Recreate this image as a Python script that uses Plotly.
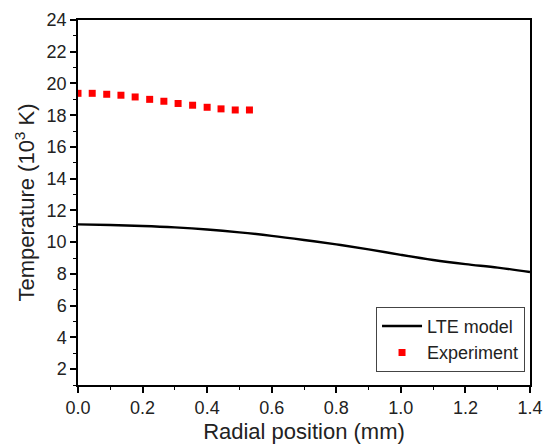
import plotly.graph_objects as go

# LTE model curve
model_x = [0.0, 0.1, 0.2, 0.3, 0.4, 0.5, 0.6, 0.7, 0.8, 0.9, 1.0, 1.1, 1.2, 1.3, 1.4]
model_y = [11.12, 11.08, 11.02, 10.93, 10.80, 10.62, 10.40, 10.14, 9.86, 9.55, 9.20, 8.88, 8.62, 8.40, 8.12]

# Experiment points
exp_x = [0.0, 0.044, 0.089, 0.133, 0.177, 0.222, 0.266, 0.310, 0.355, 0.400, 0.443, 0.487, 0.531]
exp_y = [19.38, 19.38, 19.32, 19.26, 19.15, 19.00, 18.88, 18.74, 18.63, 18.50, 18.40, 18.33, 18.33]

x_ticks = [0.0, 0.2, 0.4, 0.6, 0.8, 1.0, 1.2, 1.4]
x_labels = ["0.0", "0.2", "0.4", "0.6", "0.8", "1.0", "1.2", "1.4"]
y_ticks = [2, 4, 6, 8, 10, 12, 14, 16, 18, 20, 22, 24]

fig = go.Figure()
fig.add_trace(go.Scatter(x=model_x, y=model_y, mode="lines", name="LTE model",
                         line=dict(color="black", width=2.4, shape="spline")))
fig.add_trace(go.Scatter(x=exp_x, y=exp_y, mode="markers", name="Experiment",
                         marker=dict(symbol="square", color="#ff0000", size=7)))

font = dict(family="Liberation Sans, Arial, sans-serif", size=18, color="#222222")
fig.update_layout(
    width=544, height=444,
    margin=dict(l=78, r=14, t=20, b=59),
    paper_bgcolor="white", plot_bgcolor="white",
    font=font,
    showlegend=True,
    legend=dict(x=0.989, y=0.036, xanchor="right", yanchor="bottom",
                bordercolor="#444444", borderwidth=1, bgcolor="white",
                font=dict(size=18), tracegroupgap=0, itemwidth=40),
    xaxis=dict(range=[0, 1.4], tickvals=x_ticks, ticktext=x_labels, automargin=False,
               showgrid=False, zeroline=False, showline=True, linecolor="black",
               linewidth=1.5, mirror=True, ticks="outside", ticklen=6, tickwidth=1.5,
               tickcolor="black",
               minor=dict(dtick=0.1, ticks="outside", ticklen=3, tickwidth=1.2, tickcolor="black"),
               title=dict(text="Radial position (mm)", standoff=10)),
    yaxis=dict(range=[1, 24], tickvals=y_ticks, automargin=False,
               showgrid=False, zeroline=False, showline=True, linecolor="black",
               linewidth=1.5, mirror=True, ticks="outside", ticklen=6, tickwidth=1.5,
               tickcolor="black",
               minor=dict(tick0=1, dtick=1, ticks="outside", ticklen=3, tickwidth=1.2, tickcolor="black"),
               title=dict(text="Temperature (10<sup>3</sup> K)", standoff=6)),
)
fig.write_html("out.html", config={"displayModeBar": False},
               post_script="document.body.style.margin='0';")
